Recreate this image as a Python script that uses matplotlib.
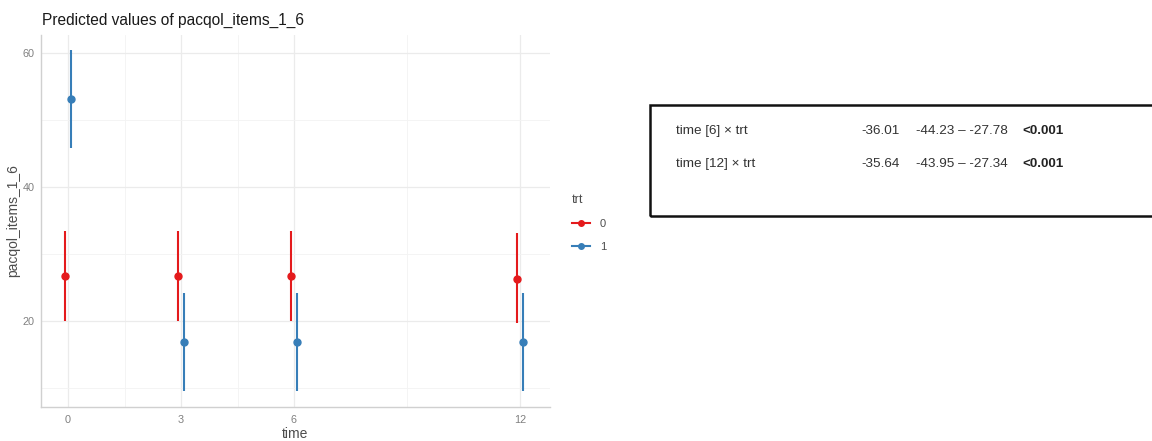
import numpy as np
import matplotlib
matplotlib.use('Agg')
import matplotlib.pyplot as plt
from matplotlib.lines import Line2D
from matplotlib.patches import Rectangle

plt.rcParams['font.family'] = ['Liberation Sans', 'DejaVu Sans']

# predicted values per time point
times = [0, 3, 6, 12]
pred_0 = [26.7, 26.7, 26.7, 26.3]
low_0 = [20.1, 20.1, 20.1, 19.7]
high_0 = [33.4, 33.4, 33.4, 33.1]
pred_1 = [53.1, 16.9, 16.9, 16.9]
low_1 = [45.8, 9.6, 9.6, 9.6]
high_1 = [60.4, 24.2, 24.2, 24.2]

# interaction terms shown in the side table
terms = ['time [6] × trt', 'time [12] × trt']
estimates = ['-36.01', '-35.64']
ci_text = ['-44.23 – -27.78', '-43.95 – -27.34']
p_text = ['<0.001', '<0.001']

red = '#E41A1C'
blue = '#377EB8'

fig = plt.figure(figsize=(11.52, 4.41), dpi=100)
ax = fig.add_axes([41/1152, 1-407/441, 509/1152, 372/441])

t = np.array(times, dtype=float)
dodge = 0.07
for x, y, lo, hi, c in [(t - dodge, pred_0, low_0, high_0, red),
                        (t + dodge, pred_1, low_1, high_1, blue)]:
    y = np.array(y)
    yerr = [y - np.array(lo), np.array(hi) - y]
    ax.errorbar(x, y, yerr=yerr, fmt='o', color=c, ms=5, elinewidth=1.5,
                capsize=0, zorder=3)

ax.set_xlim(-0.72, 12.8)
ax.set_ylim(7.2, 62.7)
ax.set_xticks(times)
ax.set_yticks([20, 40, 60])
ax.set_xticks([1.5, 4.5, 9], minor=True)
ax.set_yticks([10, 30, 50], minor=True)
ax.grid(which='major', color='#EBEBEB', lw=0.9)
ax.grid(which='minor', color='#F3F3F3', lw=0.6)
ax.set_axisbelow(True)
ax.tick_params(which='both', length=0, labelsize=7.8, labelcolor='#808080')
ax.tick_params(axis='y', pad=4.5)
ax.tick_params(axis='x', pad=6)
for s in ['top', 'right']:
    ax.spines[s].set_visible(False)
for s in ['left', 'bottom']:
    ax.spines[s].set_color('#D0D0D0')
    ax.spines[s].set_linewidth(1.0)
ax.set_xlabel('time', fontsize=10, color='#4D4D4D', labelpad=1.5)
ax.set_ylabel('pacqol_items_1_6', fontsize=10, color='#4D4D4D', labelpad=1.5)
fig.text(42/1152, 1-20/441, 'Predicted values of pacqol_items_1_6',
         fontsize=11.2, color='#1A1A1A', va='center', ha='left')

# legend
handles = [Line2D([], [], color=red, marker='o', ms=4, lw=1.5),
           Line2D([], [], color=blue, marker='o', ms=4, lw=1.5)]
leg = fig.legend(handles, ['0', '1'], title='trt', loc='upper left',
                 bbox_to_anchor=(562/1152, 1-184/441), frameon=False,
                 fontsize=8, title_fontsize=9, handlelength=1.6,
                 handletextpad=0.9, labelspacing=1.15, alignment='left')
for txt in leg.get_texts():
    txt.set_color('#4D4D4D')
leg.get_title().set_color('#4D4D4D')

# table box on the right
fig.patches.append(Rectangle((650/1152, 1-216/441), 520/1152, 111/441,
                             transform=fig.transFigure, fill=False,
                             ec='#111111', lw=1.8))
row_y = [131, 164]
for i in range(len(terms)):
    yy = 1 - row_y[i]/441
    fig.text(676/1152, yy, terms[i], fontsize=9.7, color='#333333', va='center')
    fig.text(861/1152, yy, estimates[i], fontsize=9.7, color='#333333', va='center')
    fig.text(916/1152, yy, ci_text[i], fontsize=9.7, color='#333333', va='center')
    fig.text(1022/1152, yy, p_text[i], fontsize=9.7, color='#222222',
             va='center', fontweight='bold')

fig.savefig('out.png', dpi=100)
